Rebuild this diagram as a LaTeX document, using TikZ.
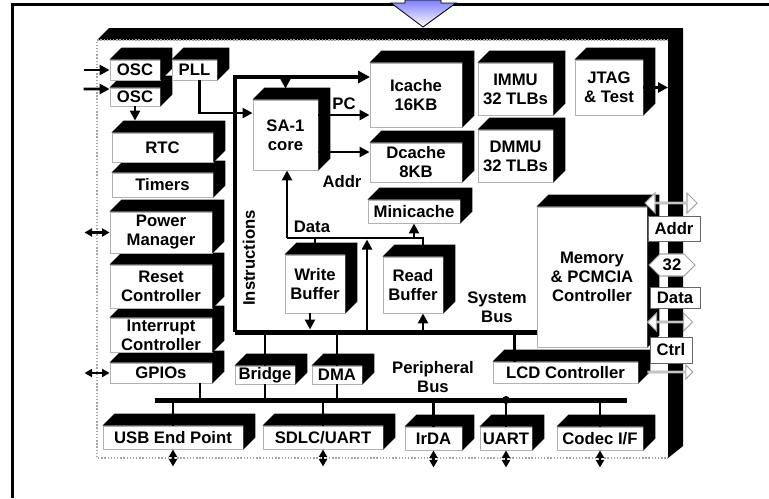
\documentclass[tikz,border=0pt]{standalone}
\usepackage{fontspec}
\setmainfont{Liberation Sans}
\usepackage{tikz}
\usetikzlibrary{arrows.meta,shapes.arrows,shapes.symbols}
\newcommand{\lblfont}{\bfseries\fontsize{9.5}{10.8}\selectfont}
% black top and right side behind a block
\newcommand{\slab}[1]{\fill (#1.north west) -- ++(12,-12) -| ([shift={(12,-12)}]#1.south east) -- (#1.south east) -- (#1.north east) -- cycle;}
\tikzset{
  blk/.style={draw=gray!60, line width=0.5pt, fill=white, inner sep=0pt, align=center, font=\lblfont},
  sz/.style 2 args={minimum width=#1*0.2mm, minimum height=#2*0.2mm},
  lab/.style={font=\lblfont, align=center, inner sep=0pt},
  wire/.style={line width=0.55mm},
  arr/.style={-{Triangle[length=2mm,width=2mm]}, line width=0.55mm},
  darr/.style={{Triangle[length=1.5mm,width=1.6mm]}-{Triangle[length=1.5mm,width=1.6mm]}, line width=0.45mm},
  sbus/.style={line width=1mm},
  ibus/.style={line width=0.8mm, -{Triangle[length=2.4mm,width=2.4mm]}},
  hol/.style={draw=gray!70, line width=0.6pt, fill=white, inner sep=0pt},
}

\begin{document}
\begin{tikzpicture}[x=0.2mm,y=-0.2mm]
  \useasboundingbox (0,0) rectangle (769,498);
  % frame and incoming arrow
  \draw[line width=0.6mm] (12.5,498) -- (12.5,4.5) -- (769,4.5);
  \shadedraw[top color=blue!50!white, bottom color=white, draw=black, line width=0.5pt]
    (405,0) -- (441,0) -- (441,3) -- (456,3) -- (423,27) -- (391,3) -- (405,3) -- cycle;
  % chip body
  \fill (97,40) -- (109,28) -- (683,28) -- (683,446) -- (668,458) -- (668,40) -- cycle;
  \draw[gray!70, densely dotted, line width=0.8pt] (668,40) -- (97,40) -- (97,458) -- (668,458);
  \coordinate (sbL) at (235,332);
  \coordinate (itop) at (235,77);
  \coordinate (pbL) at (155,400);
  \coordinate (pbR) at (627,400);
  \coordinate (dl) at (287,238);
  \coordinate (dr) at (423,238);
  \coordinate (tap) at (367,332);
  \coordinate (rbar) at (668,0);
  % left column
  \node[blk, sz={102}{20}] (gpio) at (161,373) {GPIOs}; \slab{gpio}
  \node[blk, sz={102}{34}] (intc) at (161,335) {Interrupt\\Controller}; \slab{intc}
  \node[blk, sz={102}{43}] (rstc) at (161,286.5) {Reset\\Controller}; \slab{rstc}
  \node[blk, sz={102}{41}] (pwr) at (161,232.5) {Power\\Manager}; \slab{pwr}
  \node[blk, sz={101}{24}] (tmr) at (162.5,185) {Timers}; \slab{tmr}
  \node[blk, sz={101}{29}] (rtc) at (162.5,147.5) {RTC}; \slab{rtc}
  \node[blk, sz={50}{18}] (osc2) at (135,97) {OSC}; \slab{osc2}
  \node[blk, sz={50}{20}] (osc1) at (135,70) {OSC}; \slab{osc1}
  \node[blk, sz={45}{20}] (pll) at (194.5,70) {PLL}; \slab{pll}
  % buses
  \draw[ibus] (sbL) -- (itop) -- (itop -| 370,0);
  \draw[sbus] (sbL) -- (537,332);
  \draw[sbus] (pbL) -- (pbR);
  % core and caches
  \node[blk, sz={65}{70}] (sa1) at (285.5,135) {SA-1\\core}; \slab{sa1}
  \node[blk, sz={92}{64}] (icache) at (416,95) {Icache\\16KB}; \slab{icache}
  \node[blk, sz={92}{23}] (mini) at (414,211.5) {Minicache}; \slab{mini}
  \node[blk, sz={92}{39}] (dcache) at (416,162.5) {Dcache\\8KB}; \slab{dcache}
  \node[blk, sz={75}{52}] (dmmu) at (515.5,156) {DMMU\\32 TLBs}; \slab{dmmu}
  \node[blk, sz={75}{52}] (immu) at (515.5,89) {IMMU\\32 TLBs}; \slab{immu}
  \node[blk, sz={68}{55}] (jtag) at (609,87.5) {JTAG\\\& Test}; \slab{jtag}
  \node[blk, sz={60}{58}] (wbuf) at (315,284) {Write\\Buffer}; \slab{wbuf}
  \node[blk, sz={60}{56}] (rbuf) at (413,285) {Read\\Buffer}; \slab{rbuf}
  \node[blk, sz={110}{140}] (mem) at (592,277) {Memory\\\& PCMCIA\\Controller}; \slab{mem}
  \node[blk, sz={145}{21}] (lcd) at (565.5,372.5) {LCD Controller}; \slab{lcd}
  \node[blk, sz={60}{18}] (bridge) at (265,375) {Bridge}; \slab{bridge}
  \node[blk, sz={50}{18}] (dma) at (337,375) {DMA}; \slab{dma}
  % peripherals
  \node[blk, sz={140}{23}] (usb) at (173,437.5) {USB End Point}; \slab{usb}
  \node[blk, sz={120}{23}] (sdlc) at (323,437.5) {SDLC/UART}; \slab{sdlc}
  \node[blk, sz={57}{23}] (irda) at (433.5,438.5) {IrDA}; \slab{irda}
  \node[blk, sz={52}{23}] (uart) at (506,438.5) {UART}; \slab{uart}
  \node[blk, sz={86}{23}] (codec) at (600,438.5) {Codec I/F}; \slab{codec}
  % external memory bus
  \node[hol, double arrow, double arrow head extend=1mm, minimum height=52*0.2mm, minimum width=20*0.2mm] (ha1) at (671,203) {};
  \node[blk, draw=gray!80!black, sz={52}{25}] (addr) at (674,228.5) {Addr};
  \node[hol, signal, signal to=east and west, font=\lblfont, minimum width=46*0.2mm, minimum height=22*0.2mm] (w32) at (672,265) {32};
  \node[blk, draw=gray!80!black, sz={50}{21}] (data) at (675,297.5) {Data};
  \node[hol, double arrow, double arrow head extend=1mm, minimum height=45*0.2mm, minimum width=18*0.2mm] (ha2) at (670,322) {};
  \node[blk, draw=gray!80!black, sz={42}{26}] (ctrl) at (671,350) {Ctrl};
  \node[hol, single arrow, single arrow head extend=0.8mm, minimum height=45*0.2mm, minimum width=14*0.2mm] (ha3) at (670,372) {};
  % connections
  \draw[arr] ([shift={(-26,0)}]osc1.west) -- (osc1.west);
  \draw[arr] ([shift={(-26,-8)}]osc2.west) -- ([yshift=1.6mm]osc2.west);
  \draw[arr, shorten >=2.4mm] (osc2.south) -- (osc2.south |- rtc.north);
  \draw[arr] ([xshift=1mm]pll.south) |- ([yshift=4.4mm]sa1.west);
  \draw[arr] (itop -| sa1.north) -- ([yshift=2.2mm]sa1.north);
  \draw[arr] ([yshift=4mm]sa1.east) coordinate (pcs) -- (pcs -| icache.west) node[lab, midway, above=2.5pt] {PC};
  \draw[arr] ([yshift=-3.4mm]sa1.east) coordinate (ads) -- (ads -| dcache.west);
  \node[lab] (addrlab) at (342,182) {Addr};
  \draw[wire] ([shift={(10,-12)}]rbuf.north) -- (dr) -- (dl);
  \draw[arr] (dl) -- (dl |- sa1.south);
  \draw[arr] (mini.south |- dl) -- (mini.south);
  \draw[wire] (wbuf.north |- dl) -- ([yshift=2.4mm]wbuf.north);
  \node[lab] (datalab) at (312,227) {Data};
  \draw[arr, shorten >=0.5mm] ([xshift=-1mm]wbuf.south) coordinate (wbs) -- (wbs |- sbL);
  \draw[arr, shorten >=0.3mm] (tap) -- (tap |- dl);
  \draw[arr] (dr |- sbL) -- (dr |- rbuf.south);
  \draw[wire] (bridge.north |- sbL) -- (bridge.north);
  \draw[wire] (dma.north |- sbL) -- (dma.north);
  \draw[wire] ([xshift=4.4mm]lcd.north west) coordinate (lt) -- (lt |- sbL);
  \draw[wire] ([xshift=7.8mm]gpio.south) coordinate (gs) -- (gs |- pbL);
  \draw[wire] (bridge.south) -- (bridge.south |- pbL);
  \draw[wire] (dma.south) -- (dma.south |- pbL);
  \foreach \b in {usb,sdlc,irda,uart,codec}
    \draw[wire] (\b.north |- pbL) -- (\b.north);
  \fill (uart.north |- pbL) circle (4);
  \draw[arr] (jtag.east) -- (jtag.east -| rbar);
  \draw[darr] ([xshift=-5mm]pwr.west) -- (pwr.west);
  \draw[darr] ([xshift=-5mm]gpio.west) -- (gpio.west);
  \foreach \b in {usb,sdlc,irda,uart,codec}
    \draw[darr] (\b.south) -- ([yshift=-3.4mm]\b.south);
  % labels
  \node[lab, rotate=90] (instlab) at (249,258) {Instructions};
  \node[lab] (syslab) at (497,307) {System\\Bus};
  \node[lab] (perlab) at (433,377) {Peripheral\\Bus};
\end{tikzpicture}
\end{document}
